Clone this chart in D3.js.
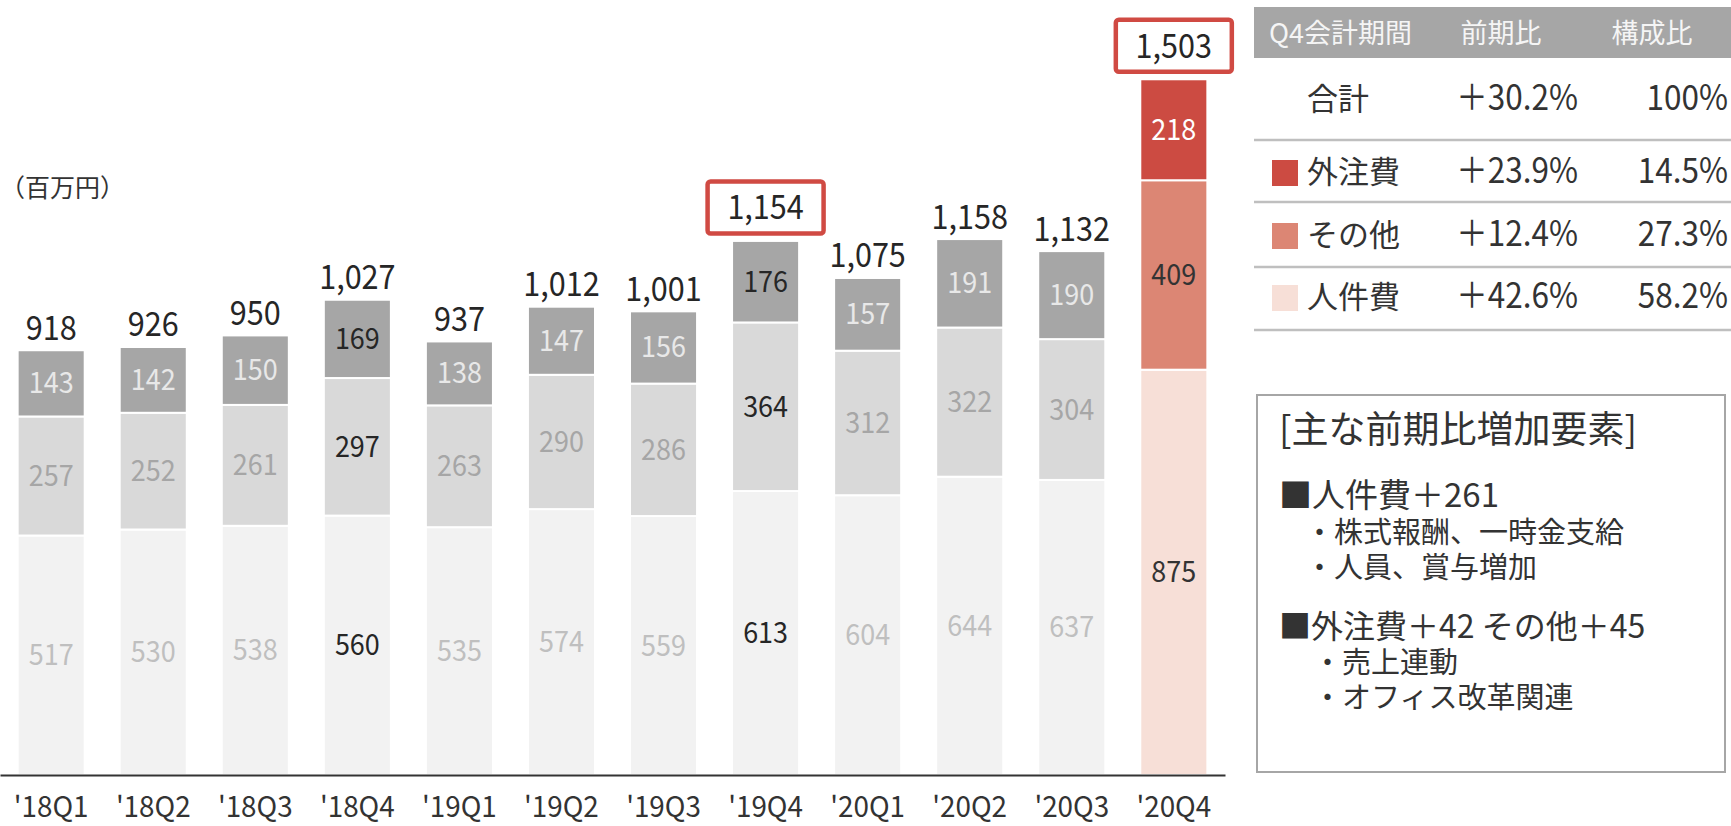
<!DOCTYPE html>
<html>
<head>
<meta charset="utf-8">
<script src="https://cdn.jsdelivr.net/npm/d3@7"></script>
<style>
    body { margin: 0; background: #fff; }
    svg { display: block; font-family: "Noto Sans CJK JP", "Noto Sans", sans-serif; }
</style>
</head>
<body>
<svg width="1731" height="826"></svg>
<script>
// data
var quarters = ["'18Q1", "'18Q2", "'18Q3", "'18Q4", "'19Q1", "'19Q2", "'19Q3", "'19Q4", "'20Q1", "'20Q2", "'20Q3", "'20Q4"];
var personnel = [517, 530, 538, 560, 535, 574, 559, 613, 604, 644, 637, 875]; // 人件費
var others = [257, 252, 261, 297, 263, 290, 286, 364, 312, 322, 304, 409]; // その他
var outsourcing = [143, 142, 150, 169, 138, 147, 156, 176, 157, 191, 190, 218]; // 外注費
var totals = [918, 926, 950, 1027, 937, 1012, 1001, 1154, 1075, 1158, 1132, 1503];

var tableHeader = ["Q4会計期間", "前期比", "構成比"];
var tableNames = ["合計", "外注費", "その他", "人件費"];
var tableYoy = ["＋30.2%", "＋23.9%", "＋12.4%", "＋42.6%"];
var tableShare = ["100%", "14.5%", "27.3%", "58.2%"];

var notes = [
    "[主な前期比増加要素]",
    "■人件費＋261",
    "・株式報酬、一時金支給",
    "・人員、賞与増加",
    "■外注費＋42 その他＋45",
    "・売上連動",
    "・オフィス改革関連"
];

window.onload = main;

// digits in the original are a bit narrower than the font, squeeze them horizontally
function place(x, y, sx) {
    return "translate(" + x + "," + y + ") scale(" + sx + ",1)";
}

function main() {
    var svg = d3.select("svg");
    var baseY = 775;

    var keys = ["personnel", "others", "outsourcing"];
    var rows = quarters.map(function (q, i) {
        return { q: q, personnel: personnel[i], others: others[i], outsourcing: outsourcing[i], total: totals[i], i: i };
    });
    var series = d3.stack().keys(keys)(rows);

    var x = d3.scaleBand()
        .domain(quarters)
        .range([0, 1225])
        .paddingInner(0.343)
        .paddingOuter(0.173);

    var y = d3.scaleLinear()
        .domain([0, 1600])
        .range([baseY, baseY - 1600 * 0.4632]);

    // colours: grey bars vs latest quarter in red
    var grey = { personnel: "#f2f2f2", others: "#d9d9d9", outsourcing: "#a6a6a6" };
    var red = { personnel: "#f7dfd7", others: "#dc8674", outsourcing: "#cc4b42" };
    var greyText = { personnel: "#bfbfbf", others: "#a6a6a6", outsourcing: "#e8e8e8" };
    var redText = { personnel: "#333", others: "#333", outsourcing: "#fff" };
    var darkLabels = [3, 7];
    var last = quarters.length - 1;
    var boxed = [7, 11];

    function fillOf(key, i) { return i == last ? red[key] : grey[key]; }
    function textOf(key, i) {
        if (i == last) return redText[key];
        if (darkLabels.indexOf(i) >= 0) return "#262626";
        return greyText[key];
    }

    var layer = svg.selectAll("g.layer")
        .data(series)
        .enter()
        .append("g")
        .attr("class", "layer");

    layer.selectAll("rect")
        .data(function (d) { return d.map(function (p) { p.key = d.key; return p; }); })
        .enter()
        .append("rect")
        .attr("x", function (d) { return x(d.data.q); })
        .attr("width", x.bandwidth())
        .attr("y", function (d) { return y(d[1]); })
        .attr("height", function (d) { return y(d[0]) - y(d[1]); })
        .attr("fill", function (d) { return fillOf(d.key, d.data.i); })
        .attr("stroke", "#fff")
        .attr("stroke-width", 2);

    layer.selectAll("text")
        .data(function (d) { return d.map(function (p) { p.key = d.key; return p; }); })
        .enter()
        .append("text")
        .attr("transform", function (d) {
            return place(x(d.data.q) + x.bandwidth() / 2, (y(d[0]) + y(d[1])) / 2 + 10, 0.93);
        })
        .attr("text-anchor", "middle")
        .style("font-size", "29px")
        .attr("fill", function (d) { return textOf(d.key, d.data.i); })
        .text(function (d) { return d.data[d.key]; });

    // totals
    var fmt = d3.format(",");
    var boxW = 116, boxH = 52;
    rows.forEach(function (r) {
        var cx = x(r.q) + x.bandwidth() / 2;
        var top = y(r.total);
        var ty = top - 10;
        if (boxed.indexOf(r.i) >= 0) {
            svg.append("rect")
                .attr("x", cx - boxW / 2)
                .attr("y", top - 7 - boxH)
                .attr("width", boxW)
                .attr("height", boxH)
                .attr("rx", 3)
                .attr("fill", "#fff")
                .attr("stroke", "#d04a43")
                .attr("stroke-width", 4.5);
            ty = top - 7 - boxH / 2 + 12;
        }
        svg.append("text")
            .attr("transform", place(cx, ty, 0.9))
            .attr("text-anchor", "middle")
            .style("font-size", "34px")
            .attr("fill", "#262626")
            .text(fmt(r.total));
    });

    // x axis
    var axis = svg.append("g")
        .attr("transform", "translate(0," + baseY + ")")
        .call(d3.axisBottom(x).tickSize(0).tickSizeOuter(0));
    axis.select(".domain").attr("stroke", "#333").attr("stroke-width", 2);
    axis.selectAll("text")
        .attr("y", null)
        .attr("dy", null)
        .attr("transform", place(0, 42, 0.96))
        .attr("fill", "#333")
        .style("font-size", "29px")
        .style("font-family", "'Noto Sans CJK JP', sans-serif");

    // unit
    svg.append("text")
        .attr("x", 0)
        .attr("y", 197)
        .style("font-size", "25px")
        .attr("fill", "#333")
        .text("（百万円）");

    // table
    var tx = 1254, tRight = 1731;
    svg.append("rect")
        .attr("x", tx).attr("y", 7)
        .attr("width", tRight - tx).attr("height", 51)
        .attr("fill", "#a6a6a6");
    var headX = [1269, 1501, 1652];
    tableHeader.forEach(function (h, i) {
        svg.append("text")
            .attr("x", headX[i])
            .attr("y", 43)
            .attr("text-anchor", i == 0 ? "start" : "middle")
            .style("font-size", "27px")
            .attr("fill", "#f5f5f5")
            .text(h);
    });

    var rowBase = [110, 183, 246, 308];
    var rowLine = [140, 202, 267, 330];
    var legendFill = [null, red.outsourcing, red.others, red.personnel];
    tableNames.forEach(function (n, i) {
        if (legendFill[i]) {
            svg.append("rect")
                .attr("x", 1272).attr("y", rowBase[i] - 23)
                .attr("width", 26).attr("height", 26)
                .attr("fill", legendFill[i]);
        }
        svg.append("text")
            .attr("x", 1307).attr("y", rowBase[i])
            .style("font-size", "31px").attr("fill", "#333")
            .text(n);
        svg.append("text")
            .attr("transform", place(1578, rowBase[i], 0.9))
            .attr("text-anchor", "end")
            .style("font-size", "35px").attr("fill", "#333")
            .text(tableYoy[i]);
        svg.append("text")
            .attr("transform", place(1728, rowBase[i], 0.9))
            .attr("text-anchor", "end")
            .style("font-size", "35px").attr("fill", "#333")
            .text(tableShare[i]);
        svg.append("line")
            .attr("x1", tx).attr("x2", tRight)
            .attr("y1", rowLine[i]).attr("y2", rowLine[i])
            .attr("stroke", "#bfbfbf").attr("stroke-width", 2.5);
    });

    // notes box
    svg.append("rect")
        .attr("x", 1257).attr("y", 395)
        .attr("width", 468).attr("height", 377)
        .attr("fill", "none")
        .attr("stroke", "#a6a6a6")
        .attr("stroke-width", 2);

    var noteX = [1279, 1279, 1305, 1305, 1279, 1313, 1313];
    var noteY = [443, 507, 543, 578, 638, 673, 708];
    var noteSize = [37, 33, 29, 29, 32, 29, 29];
    notes.forEach(function (t, i) {
        svg.append("text")
            .attr("x", noteX[i]).attr("y", noteY[i])
            .style("font-size", noteSize[i] + "px")
            .attr("fill", "#333")
            .text(t);
    });
}
</script>
</body>
</html>
